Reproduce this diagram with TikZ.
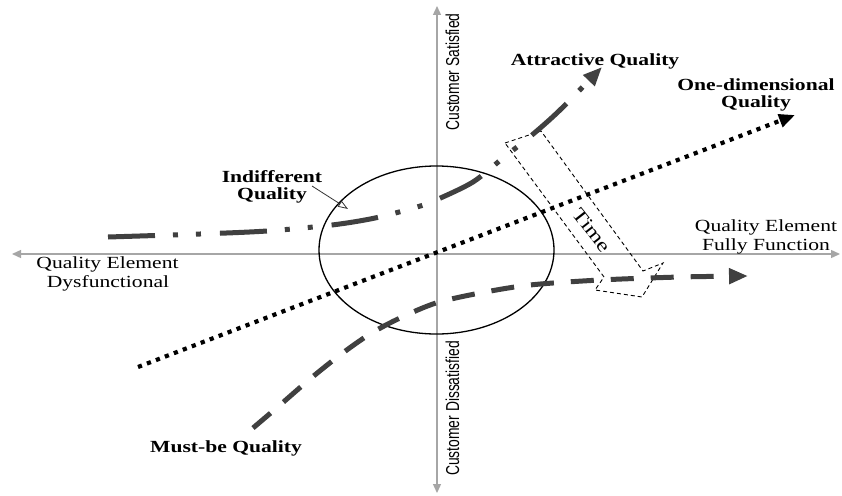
\documentclass[tikz,border=0pt]{standalone}
\usepackage{fontspec}
\setmainfont{Liberation Serif}
\newfontfamily\axisfont{Liberation Sans}
\usepackage{graphicx}
\usetikzlibrary{arrows.meta,shapes.geometric}
\definecolor{axisgray}{HTML}{A6A6A6}
\definecolor{curvegray}{HTML}{404040}
\newcommand\sx[1]{\scalebox{1.27}[1]{#1}}
\newcommand\sv[1]{\scalebox{1}[1.35]{#1}}
\tikzset{
  axisline/.style={draw=axisgray, line width=1.3pt, {Triangle[length=9pt,width=8pt]}-{Triangle[length=9pt,width=8pt]}},
  lbl/.style={anchor=base, inner sep=0pt, font=\fontsize{17}{19}\selectfont, text=black},
  blbl/.style={anchor=base, inner sep=0pt, font=\fontsize{17}{19}\selectfont\bfseries, text=black},
  vlbl/.style={anchor=base, inner sep=0pt, rotate=90, font=\axisfont\fontsize{13.85}{15}\selectfont, text=black},
  curvetip/.style={-{Triangle[length=19pt,width=15pt]}},
  attractive/.style={draw=curvegray, line width=5pt, dash pattern=on 47pt off 18pt on 5pt off 18pt on 5pt off 19pt, curvetip},
  mustbe/.style={draw=curvegray, line width=5pt, dash pattern=on 23pt off 17pt, curvetip},
  onedim/.style={draw=black, line width=4.2pt, dash pattern=on 4.2pt off 5.4pt, -{Triangle[length=16pt,width=13pt]}},
  timebox/.style={draw=black, line width=0.9pt, dash pattern=on 4pt off 3pt},
  pointer/.style={draw=black!80, line width=0.8pt, -{Triangle[open,length=10pt,width=7pt]}},
}
\begin{document}
\begin{tikzpicture}[x=1pt,y=-1pt]
\useasboundingbox (0,0) rectangle (842,495);
\fill[white] (0,0) rectangle (842,495);

% axes
\coordinate (xl) at (12,254);
\coordinate (xr) at (840,254);
\coordinate (yt) at (437,6);
\coordinate (yb) at (437,493);
\draw[axisline] (xl) -- (xr);
\draw[axisline] (yt) -- (yb);

% circle
\node[draw=black, line width=1.3pt, ellipse, minimum width=235pt, minimum height=168pt, inner sep=0pt] (circ) at (436.5,250) {};

% time box
\coordinate (ta) at (505,143);
\coordinate (tb) at (541,131);
\coordinate (tc) at (643,271);
\coordinate (td) at (663,263);
\coordinate (te) at (642,297);
\coordinate (tf) at (595,290);
\coordinate (tg) at (604,277);
\draw[timebox] (ta) -- (tb) -- (tc) -- (td) -- (te) -- (tf) -- (tg) -- cycle;
\node[inner sep=0pt, rotate=-52, font=\fontsize{19}{21}\selectfont] (time) at (592,230) {\sx{Time}};

% one-dimensional (dotted)
\coordinate (od1) at (138,367);
\coordinate (od2) at (795,115);
\draw[onedim] (od1) -- (od2);

% attractive (dash-dot)
\draw[attractive] plot[smooth, tension=0.5] coordinates {(108,237) (200,234) (267,231) (332,225) (375,218) (417,207) (436,200) (473,182) (503,158) (532,135) (560,110) (602,67)};

% must-be (dashed)
\draw[mustbe] plot[smooth, tension=0.5] coordinates {(253,428) (280,405) (310,379) (340,355) (370,334) (400,318) (436,303) (480,293) (530,285) (600,280) (680,277) (748,276)};

% labels
\node[blbl] (attr) at (595,65) {\sx{Attractive Quality}};
\node[blbl] (one1) at (756,90) {\sx{One-dimensional}};
\node[blbl] (one2) at (756,107) {\sx{Quality}};
\node[blbl] (ind1) at (272,182) {\sx{Indifferent}};
\node[blbl] (ind2) at (272,199) {\sx{Quality}};
\node[blbl] (must) at (226,452) {\sx{Must-be Quality}};
\node[lbl] (ff1) at (766,231) {\sx{Quality Element}};
\node[lbl] (ff2) at (766,250) {\sx{Fully Function}};
\node[lbl] (df1) at (107.5,268) {\sx{Quality Element}};
\node[lbl] (df2) at (108,287) {\sx{Dysfunctional}};
\node[vlbl] (sat) at (459,72) {\sv{Customer Satisfied}};
\node[vlbl] (dis) at (459,408.5) {\sv{Customer Dissatisfied}};

% indifferent pointer
\coordinate (ip1) at (312,186);
\coordinate (ip2) at (348,209);
\draw[pointer] (ip1) -- (ip2);
\end{tikzpicture}
\end{document}
